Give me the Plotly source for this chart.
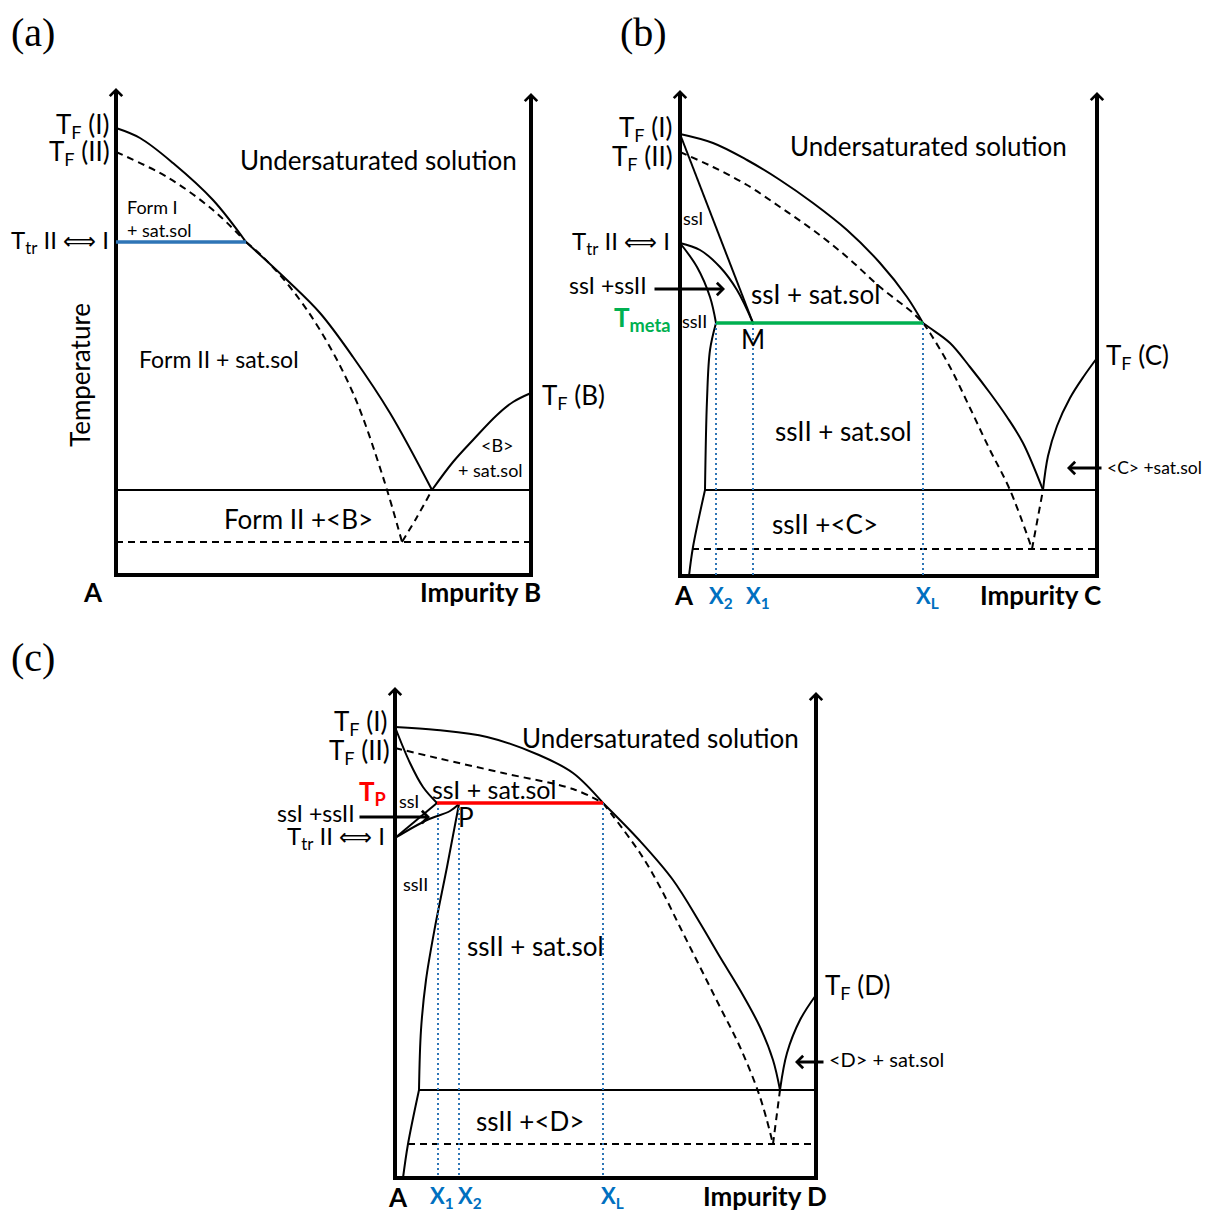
import plotly.graph_objects as go

# Schematic phase diagrams, arbitrary units: x = composition (0 at A), T = temperature (0 at baseline)

# ---------------- panel (a): A + impurity B ----------------
a_width, a_top_left, a_top_right = 415, 487, 482
a_liqI_x = [0, 24, 57, 97, 130]
a_liqI_T = [447, 437, 412, 375, 333]
a_liqII_x = [130, 171, 204, 237, 274, 316]
a_liqII_T = [333, 295, 262, 218, 162, 85]
a_dashI_x = [0, 51, 97, 130]
a_dashI_T = [423, 398, 365, 333]
a_dashII_x = [130, 147, 174, 204, 237, 267, 286]
a_dashII_T = [333, 318, 288, 245, 182, 98, 33]
a_liqB_x = [316, 337, 357, 381, 397, 415]
a_liqB_T = [85, 113, 135, 160, 173, 182]
a_metaB_x = [286, 301, 316]
a_metaB_T = [33, 58, 85]
a_eut_T, a_meta_eut_T = 85, 33
a_transition_T, a_transition_x = 333, 130

# ---------------- panel (b): A + impurity C ----------------
b_width, b_top_left, b_top_right = 417, 486, 484
b_liqI_x = [0, 33, 67, 100, 133, 167, 200, 227, 243]
b_liqI_T = [442, 433, 416, 396, 373, 346, 313, 279, 253]
b_liqII_x = [243, 250, 270, 290, 310, 327, 343, 363]
b_liqII_T = [253, 248, 233, 209, 183, 159, 133, 86]
b_dashI_x = [0, 33, 67, 100, 133, 167, 200, 233, 243]
b_dashI_T = [424, 409, 391, 369, 346, 319, 289, 263, 253]
b_dashII_x = [243, 250, 270, 290, 309, 330, 352]
b_dashII_T = [253, 243, 209, 168, 128, 86, 27]
b_liqC_x = [363, 368, 377, 390, 404, 417]
b_liqC_T = [86, 120, 150, 178, 200, 218]
b_metaC_x = [352, 363]
b_metaC_T = [27, 86]
b_solI_x = [0, 73]
b_solI_T = [442, 253]
b_upper_x = [0, 20, 40, 57, 73]
b_upper_T = [333, 326, 309, 286, 253]
b_lower_x = [0, 17, 30, 36]
b_lower_T = [333, 309, 279, 253]
b_ssII_x = [36, 30, 27, 25]
b_ssII_T = [253, 226, 176, 86]
b_ssII_low_x = [25, 13, 9]
b_ssII_low_T = [86, 29, 0]
b_eut_T, b_meta_eut_T = 86, 27
b_meta_T = 253
b_X2, b_X1, b_XL = 36, 73, 243

# ---------------- panel (c): A + impurity D ----------------
c_width, c_top_left, c_top_right = 421, 491, 486
c_liqI_x = [0, 42, 92, 144, 178, 208]
c_liqI_T = [451, 448, 441, 423, 405, 375]
c_liqII_x = [208, 245, 278, 305, 325, 345, 365, 378, 385]
c_liqII_T = [375, 337, 298, 255, 221, 188, 151, 118, 88]
c_dashI_x = [0, 42, 108, 178, 208]
c_dashI_T = [430, 420, 405, 389, 375]
c_dashII_x = [208, 245, 265, 285, 305, 325, 345, 365, 378]
c_dashII_T = [375, 325, 291, 251, 211, 171, 131, 81, 34]
c_liqD_x = [385, 392, 405, 421]
c_liqD_T = [88, 125, 158, 183]
c_metaD_x = [378, 385]
c_metaD_T = [34, 88]
c_ssI_x = [0, 15, 28, 42]
c_ssI_T = [451, 415, 391, 375]
c_line_x = [0, 42]
c_line_T = [340, 375]
c_curve_x = [0, 32, 55, 64]
c_curve_T = [340, 358, 367, 374]
c_ssII_x = [64, 52, 40, 31, 26, 24]
c_ssII_T = [374, 311, 251, 198, 148, 88]
c_ssII_low_x = [24, 13, 8]
c_ssII_low_T = [88, 34, 0]
c_eut_T, c_meta_eut_T = 88, 34
c_P_T = 375
c_X1, c_X2, c_XL = 43, 64, 208

BLUE = "#2E75B6"
BLUE_TXT = "#0070C0"
GREEN = "#00B050"
RED = "#FF0000"
DASH = "7px,5px"
DOT = "2px,3px"
SANS = "Lato"
BIG, SMALL, LAB = 26, 18, 26
TTR = 'T<sub>tr</sub> II <span style="font-family:DejaVu Sans;font-size:23px">⟺</span> I'

fig = go.Figure()


def line(x, y, ax, color="black", width=2, dash=None, smooth=False):
    fig.add_trace(go.Scatter(
        x=x, y=y, mode="lines", xaxis="x" + ax, yaxis="y" + ax, hoverinfo="skip",
        line=dict(color=color, width=width, dash=dash,
                  shape="spline" if smooth else "linear")))


def text(s, x, y, ax, size=BIG, color="black", anchor="center", family=SANS, angle=0):
    fig.add_annotation(text=s, x=x, y=y, xref="x" + ax, yref="y" + ax, showarrow=False,
                       xanchor=anchor, yanchor="middle", textangle=angle, align="left",
                       font=dict(family=family, size=size, color=color))


def arrow(x0, y0, x1, y1, ax, width=3, size=0.8):
    fig.add_annotation(text="", x=x1, y=y1, ax=x0, ay=y0, xref="x" + ax, yref="y" + ax,
                       axref="x" + ax, ayref="y" + ax, showarrow=True, arrowhead=4,
                       arrowwidth=width, arrowsize=size, arrowcolor="black", standoff=0)


def frame(ax, w, top_l, top_r):
    line([0, 0, w, w], [top_l - 20, 0, 0, top_r - 20], ax, width=4)
    arrow(0, top_l - 30, 0, top_l, ax, width=4, size=0.6)
    arrow(w, top_r - 30, w, top_r, ax, width=4, size=0.6)


# panel (a)
ax = ""
frame(ax, a_width, a_top_left, a_top_right)
line(a_liqI_x, a_liqI_T, ax, smooth=True)
line(a_liqII_x, a_liqII_T, ax, smooth=True)
line(a_dashI_x, a_dashI_T, ax, dash=DASH, smooth=True)
line(a_dashII_x, a_dashII_T, ax, dash=DASH, smooth=True)
line(a_liqB_x, a_liqB_T, ax, smooth=True)
line(a_metaB_x, a_metaB_T, ax, dash=DASH, smooth=True)
line([0, a_width], [a_eut_T, a_eut_T], ax)
line([0, a_width], [a_meta_eut_T, a_meta_eut_T], ax, dash=DASH)
line([0, a_transition_x], [a_transition_T, a_transition_T], ax, color=BLUE, width=3.5)

text("(a)", -83, 543, ax, size=40, family="Liberation Serif")
text("T<sub>F</sub> (I)", -5, 450, ax, anchor="right")
text("T<sub>F</sub> (II)", -4, 423, ax, anchor="right")
text(TTR, -5, 334, ax, size=24, anchor="right")
text("Temperature", -36, 200, ax, angle=-90)
text("Undersaturated solution", 262, 415, ax)
text("Form I<br>+ sat.sol", 9, 357, ax, size=SMALL, anchor="left")
text("Form II + sat.sol", 103, 216, ax, size=23)
text("T<sub>F</sub> (B)", 424, 179, ax, anchor="left")
text("&lt;B&gt;", 381, 130, ax, size=SMALL)
text("+ sat.sol", 374, 105, ax, size=SMALL)
text("Form II +&lt;B&gt;", 182, 56, ax)
text("<b>A</b>", -23, -17, ax, size=LAB)
text("<b>Impurity B</b>", 364, -17, ax, size=LAB)

# panel (b)
ax = "2"
frame(ax, b_width, b_top_left, b_top_right)
line(b_liqI_x, b_liqI_T, ax, smooth=True)
line(b_liqII_x, b_liqII_T, ax, smooth=True)
line(b_dashI_x, b_dashI_T, ax, dash=DASH, smooth=True)
line(b_dashII_x, b_dashII_T, ax, dash=DASH, smooth=True)
line(b_liqC_x, b_liqC_T, ax, smooth=True)
line(b_metaC_x, b_metaC_T, ax, dash=DASH)
line(b_solI_x, b_solI_T, ax)
line(b_upper_x, b_upper_T, ax, smooth=True)
line(b_lower_x, b_lower_T, ax, smooth=True)
line(b_ssII_x, b_ssII_T, ax, smooth=True)
line(b_ssII_low_x, b_ssII_low_T, ax, smooth=True)
line([b_ssII_x[-1], b_width], [b_eut_T, b_eut_T], ax)
line([b_ssII_low_x[1] - 1, b_width], [b_meta_eut_T, b_meta_eut_T], ax, dash=DASH)
for xv in [b_X2, b_X1, b_XL]:
    line([xv, xv], [b_meta_T, 0], ax, color=BLUE, width=2, dash=DOT)
line([b_X2, b_XL], [b_meta_T, b_meta_T], ax, color=GREEN, width=3.5)
arrow(-27, 287, 45, 287, ax)
arrow(423, 108, 387, 108, ax)

text("(b)", -37, 544, ax, size=40, family="Liberation Serif")
text("T<sub>F</sub> (I)", -6, 448, ax, anchor="right")
text("T<sub>F</sub> (II)", -5, 419, ax, anchor="right")
text("ssI", 13, 358, ax, size=SMALL)
text(TTR, -8, 334, ax, size=24, anchor="right")
text("ssI +ssII", -72, 291, ax, size=23)
text("<b>T<sub>meta</sub></b>", -8, 258, ax, color=GREEN, anchor="right")
text("ssII", 14, 255, ax, size=SMALL)
text("M", 73, 237, ax)
text("ssI + sat.sol", 135, 282, ax)
text("Undersaturated solution", 248, 430, ax)
text("T<sub>F</sub> (C)", 424, 220, ax, anchor="left")
text("ssII + sat.sol", 163, 145, ax)
text("&lt;C&gt; +sat.sol", 425, 109, ax, size=17.5, anchor="left")
text("ssII +&lt;C&gt;", 145, 52, ax)
text("<b>A</b>", 4, -19, ax, size=LAB)
text("<b>X<sub>2</sub></b>", 41, -21, ax, size=22, color=BLUE_TXT)
text("<b>X<sub>1</sub></b>", 78, -21, ax, size=22, color=BLUE_TXT)
text("<b>X<sub>L</sub></b>", 247, -21, ax, size=22, color=BLUE_TXT)
text("<b>Impurity C</b>", 360, -19, ax, size=LAB)

# panel (c)
ax = "3"
frame(ax, c_width, c_top_left, c_top_right)
line(c_liqI_x, c_liqI_T, ax, smooth=True)
line(c_liqII_x, c_liqII_T, ax, smooth=True)
line(c_dashI_x, c_dashI_T, ax, dash=DASH, smooth=True)
line(c_dashII_x, c_dashII_T, ax, dash=DASH, smooth=True)
line(c_liqD_x, c_liqD_T, ax, smooth=True)
line(c_metaD_x, c_metaD_T, ax, dash=DASH)
line(c_ssI_x, c_ssI_T, ax, smooth=True)
line(c_line_x, c_line_T, ax)
line(c_curve_x, c_curve_T, ax, smooth=True)
line(c_ssII_x, c_ssII_T, ax, smooth=True)
line(c_ssII_low_x, c_ssII_low_T, ax, smooth=True)
line([c_ssII_x[-1], c_width], [c_eut_T, c_eut_T], ax)
line([c_ssII_low_x[1], c_width], [c_meta_eut_T, c_meta_eut_T], ax, dash=DASH)
for xv in [c_X1, c_X2, c_XL]:
    line([xv, xv], [c_P_T, 0], ax, color=BLUE, width=2, dash=DOT)
line([c_ssI_x[-1], c_XL], [c_P_T, c_P_T], ax, color=RED, width=3.5)
arrow(-37, 361, 35, 361, ax)
arrow(430, 116, 400, 116, ax)

text("(c)", -362, 521, ax, size=40, family="Liberation Serif")
text("T<sub>F</sub> (I)", -6, 456, ax, anchor="right")
text("T<sub>F</sub> (II)", -3, 427, ax, anchor="right")
text("<b>T<sub>P</sub></b>", -7, 386, ax, color=RED, anchor="right")
text("ssI", 14, 377, ax, size=SMALL)
text("ssI + sat.sol", 99, 389, ax, size=25)
text("P", 71, 361, ax)
text("ssI +ssII", -38, 365, ax, size=23, anchor="right")
text(TTR, -8, 341, ax, size=24, anchor="right")
text("ssII", 20, 294, ax, size=SMALL)
text("ssII + sat.sol", 140, 232, ax)
text("Undersaturated solution", 265, 440, ax)
text("T<sub>F</sub> (D)", 428, 192, ax, anchor="left")
text("&lt;D&gt; + sat.sol", 432, 119, ax, size=20, anchor="left")
text("ssII +&lt;D&gt;", 135, 57, ax)
text("<b>A</b>", 3, -19, ax, size=LAB)
text("<b>X<sub>1</sub></b>", 47, -19, ax, size=22, color=BLUE_TXT)
text("<b>X<sub>2</sub></b>", 75, -19, ax, size=22, color=BLUE_TXT)
text("<b>X<sub>L</sub></b>", 217, -19, ax, size=22, color=BLUE_TXT)
text("<b>Impurity D</b>", 370, -18, ax, size=LAB)

# the page adds an 8px body margin, so the figure is 8px smaller than the window
W, H = 1205, 1204
hidden = dict(visible=False, fixedrange=True)
fig.update_layout(
    width=W, height=H, margin=dict(l=0, r=0, t=0, b=0),
    paper_bgcolor="white", plot_bgcolor="white", showlegend=False,
    xaxis=dict(domain=[0, 592 / W], range=[-108, 484], anchor="y", **hidden),
    yaxis=dict(domain=[1 - 612 / H, 1], range=[-45, 567], anchor="x", **hidden),
    xaxis2=dict(domain=[592 / W, 1], range=[-80, 533], anchor="y2", **hidden),
    yaxis2=dict(domain=[1 - 612 / H, 1], range=[-44, 568], anchor="x2", **hidden),
    xaxis3=dict(domain=[0, 1], range=[-387, 818], anchor="y3", **hidden),
    yaxis3=dict(domain=[0, 1 - 612 / H], range=[-34, 558], anchor="x3", **hidden),
)

fig.write_html("out.html")
